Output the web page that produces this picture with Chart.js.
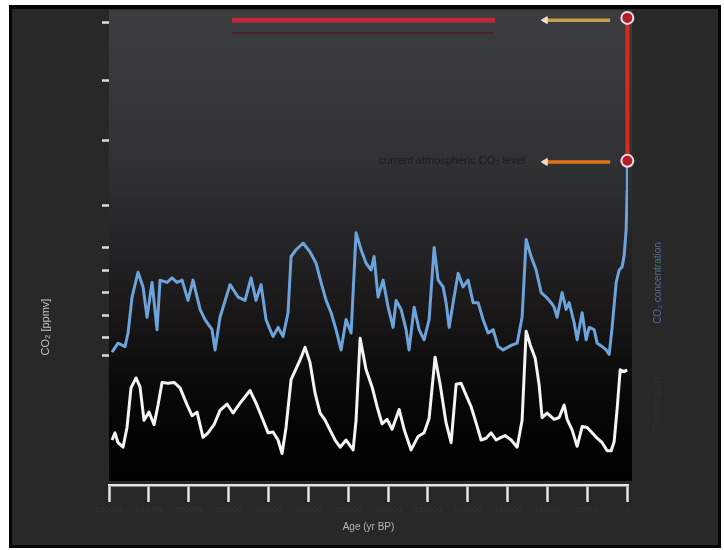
<!DOCTYPE html>
<html>
<head>
<meta charset="utf-8">
<script src="https://cdn.jsdelivr.net/npm/chart.js@4/dist/chart.umd.min.js"></script>
<style>
  html, body { margin: 0; padding: 0; background: #ffffff; }
  #wrap { width: 724px; height: 550px; }
</style>
</head>
<body>
<div id="wrap"><canvas id="c" width="724" height="550"></canvas></div>
<script>
// Ice-core record: atmospheric CO2 and temperature over the last 650,000 years

// CO2 (ppmv) by age (years before present)
const co2Age = [646200, 638700, 629900, 626100, 621100, 613600, 607300, 602300, 596000, 589800,
  586000, 577200, 571000, 564700, 558400, 550900, 544600, 535800, 529600, 520800,
  517000, 510800, 498200, 488200, 479400, 471900, 465600, 459300, 453100, 448000,
  444300, 438000, 431700, 425500, 421700, 415400, 406600, 397900, 390300, 384100,
  377800, 371500, 365300, 359000, 352700, 346400, 340200, 333900, 327600, 321400,
  317600, 312600, 306300, 300000, 293800, 290000, 283700, 277500, 273700, 267400,
  261100, 254900, 248600, 242300, 237300, 231000, 227300, 223500, 218500, 212200,
  206000, 199700, 193400, 187100, 180900, 174600, 168300, 162100, 155800, 145700,
  138200, 132000, 126900, 120700, 114400, 108100, 101800, 95600, 91800, 88100,
  81800, 76800, 73000, 66700, 63000, 56700, 51700, 47900, 41600, 37900,
  31600, 26600, 22800, 19100, 14000, 10300, 6500, 4000, 1500, 300, 0];
const co2Ppm = [183, 191, 188, 200, 232, 254, 241, 214, 245, 203,
  247, 245, 249, 245, 247, 229, 247, 221, 212, 203,
  185, 214, 243, 232, 229, 249, 229, 243, 212, 203,
  197, 205, 197, 218, 268, 274, 280, 272, 262, 245,
  229, 218, 203, 185, 212, 200, 289, 274, 262, 256,
  268, 232, 247, 223, 205, 229, 221, 203, 185, 223,
  203, 194, 212, 276, 247, 241, 227, 205, 227, 253,
  241, 247, 227, 227, 212, 200, 203, 188, 185, 189,
  191, 214, 283, 268, 256, 236, 232, 227, 223, 214,
  236, 221, 227, 209, 194, 218, 194, 205, 203, 191,
  188, 185, 181, 205, 245, 256, 259, 269, 292, 327, 353];

// Temperature anomaly (deg C) by age (years before present)
const tempAge = [646200, 642500, 638700, 632400, 627400, 622400, 616100, 611100, 606100, 599800,
  593500, 588500, 583500, 576000, 568400, 560900, 552100, 545900, 539600, 532100,
  525800, 518300, 510800, 502000, 494400, 485700, 473100, 465600, 456800, 450500,
  444300, 438000, 433000, 428000, 421700, 410400, 404100, 397900, 391600, 385300,
  379000, 372800, 366500, 360200, 352700, 343900, 340200, 335100, 327600, 320100,
  313800, 307600, 301300, 295000, 286200, 280000, 271200, 262400, 254900, 248600,
  241100, 234800, 227300, 221000, 214700, 208500, 202200, 195900, 189700, 183400,
  177100, 170800, 164600, 158300, 153300, 145700, 138200, 132000, 126900, 121900,
  115600, 110600, 106900, 100600, 91800, 85500, 79300, 75500, 69200, 63000,
  56700, 50400, 44200, 37900, 31600, 25300, 20300, 16600, 12800, 9000, 4000, 300];
const tempAnomaly = [-7.7, -6.9, -8.0, -8.5, -6.3, -1.9, -0.8, -1.8, -5.5, -4.6,
  -6.0, -3.8, -1.3, -1.4, -1.3, -1.9, -3.8, -5.0, -4.6, -7.4,
  -6.9, -6.0, -4.4, -3.7, -4.7, -3.6, -2.2, -3.6, -5.5, -6.9,
  -6.8, -7.7, -9.2, -6.3, -1.0, 1.2, 2.6, 0.9, -2.5, -4.7,
  -5.5, -6.6, -7.7, -8.5, -7.7, -8.8, -5.5, 3.6, 0.1, -1.8,
  -4.0, -5.9, -5.4, -6.5, -4.3, -6.5, -8.8, -7.3, -6.9, -5.3,
  1.5, -1.5, -5.8, -8.0, -1.5, -1.4, -2.7, -4.0, -5.8, -7.7,
  -7.5, -6.9, -7.7, -7.4, -7.2, -7.7, -8.5, -5.5, 4.4, 2.9,
  1.4, -1.6, -5.2, -4.7, -5.4, -5.2, -3.8, -5.4, -6.6, -8.4,
  -6.2, -6.3, -6.9, -7.5, -8.0, -8.9, -8.9, -7.9, -4.2, 0.1, -0.1, 0.1];

// Today's level and the projected level (ppmv)
const presentCo2 = 353;
const projectedCo2 = 480;
// Span of the level markers (ages) and the upper band
const arrowAges = [103000, 21600];
const bandAges = [495700, 165800];
const bandLevels = [478, 466.5];

// Axis ticks
const xTickValues = [650000, 600000, 550000, 500000, 450000, 400000, 350000,
  300000, 250000, 200000, 150000, 100000, 50000, 0];
const co2TickValues = [180, 196, 216, 236, 256, 276, 313, 371, 424, 476];

const pairs = (xs, ys) => xs.map((x, i) => ({ x: x, y: ys[i] }));

Chart.defaults.font.family = "'Liberation Sans', Arial, sans-serif";

const backdrop = {
  id: 'backdrop',
  beforeDraw(chart) {
    const { ctx, chartArea: a, width, height } = chart;
    ctx.save();
    ctx.fillStyle = '#ffffff';
    ctx.fillRect(0, 0, width, height);
    ctx.fillStyle = '#050505';
    ctx.fillRect(9, 5, 712, 543);
    ctx.fillStyle = '#282828';
    ctx.fillRect(12, 9, 706, 536);
    const g = ctx.createLinearGradient(0, a.top, 0, a.bottom - 4);
    g.addColorStop(0.00, '#3b3d40');
    g.addColorStop(0.30, '#313335');
    g.addColorStop(0.46, '#27272a');
    g.addColorStop(0.61, '#1c1a1b');
    g.addColorStop(0.78, '#0c0b0b');
    g.addColorStop(0.90, '#030303');
    g.addColorStop(1.00, '#000000');
    ctx.fillStyle = g;
    ctx.fillRect(a.left, a.top, a.right + 4 - a.left, a.bottom - 4 - a.top);
    ctx.restore();
  }
};

const labels = {
  id: 'labels',
  afterDraw(chart) {
    const { ctx } = chart;
    const y = chart.scales.y;
    const x = chart.scales.x;
    ctx.save();
    ctx.textAlign = 'center';
    ctx.textBaseline = 'middle';
    // left axis title
    ctx.save();
    ctx.translate(46, 327);
    ctx.rotate(-Math.PI / 2);
    ctx.fillStyle = '#c4c4c4';
    ctx.font = "11px 'Liberation Sans', Arial, sans-serif";
    ctx.fillText('CO\u2082 [ppmv]', 0, 0);
    ctx.restore();
    // right-hand series labels
    ctx.save();
    ctx.translate(658, 283);
    ctx.rotate(-Math.PI / 2);
    ctx.fillStyle = '#4f6c96';
    ctx.font = "10px 'Liberation Sans', Arial, sans-serif";
    ctx.fillText('CO\u2082 concentration', 0, 0);
    ctx.restore();
    ctx.save();
    ctx.translate(658, 402);
    ctx.rotate(-Math.PI / 2);
    ctx.fillStyle = '#2f2f2f';
    ctx.font = "10px 'Liberation Sans', Arial, sans-serif";
    ctx.fillText('Temperature', 0, 0);
    ctx.restore();
    // note beside today's level
    ctx.textAlign = 'right';
    ctx.fillStyle = '#1d1d1d';
    ctx.font = "11px 'Liberation Sans', Arial, sans-serif";
    ctx.fillText('current atmospheric CO\u2082 level', x.getPixelForValue(arrowAges[0]) - 20, y.getPixelForValue(presentCo2));
    ctx.restore();
  }
};

new Chart(document.getElementById('c'), {
  type: 'line',
  data: {
    datasets: [
      {
        label: 'present to projected',
        data: [{ x: 0, y: presentCo2 }, { x: 0, y: projectedCo2 }],
        yAxisID: 'y',
        borderColor: '#d42c1c',
        borderWidth: 4,
        pointRadius: 6,
        pointBorderWidth: 2,
        pointBackgroundColor: '#b41e2a',
        pointBorderColor: '#f0dcdc',
        clip: false,
        order: 0
      },
      {
        label: 'projected marker',
        data: [{ x: arrowAges[0], y: projectedCo2 - 2 }, { x: arrowAges[1], y: projectedCo2 - 2 }],
        yAxisID: 'y',
        borderColor: '#c4a24c',
        borderWidth: 3.5,
        pointStyle: 'triangle',
        pointRotation: -90,
        pointRadius: [4, 0],
        pointBackgroundColor: '#efe4c8',
        pointBorderColor: '#efe4c8',
        pointBorderWidth: 1,
        order: 1
      },
      {
        label: 'present marker',
        data: [{ x: arrowAges[0], y: presentCo2 - 1 }, { x: arrowAges[1], y: presentCo2 - 1 }],
        yAxisID: 'y',
        borderColor: '#e07418',
        borderWidth: 3.5,
        pointStyle: 'triangle',
        pointRotation: -90,
        pointRadius: [4, 0],
        pointBackgroundColor: '#f2dcc4',
        pointBorderColor: '#f2dcc4',
        pointBorderWidth: 1,
        order: 1
      },
      {
        label: 'band',
        data: [{ x: bandAges[0], y: bandLevels[0] }, { x: bandAges[1], y: bandLevels[0] }],
        yAxisID: 'y',
        borderColor: '#bc2a3c',
        borderWidth: 5,
        pointRadius: 0,
        order: 2
      },
      {
        label: 'band edge',
        data: [{ x: bandAges[0], y: bandLevels[1] }, { x: bandAges[1] + 2500, y: bandLevels[1] }],
        yAxisID: 'y',
        borderColor: '#4a2228',
        borderWidth: 2,
        pointRadius: 0,
        order: 2
      },
      {
        label: 'CO2',
        data: pairs(co2Age, co2Ppm),
        yAxisID: 'y',
        borderColor: '#6ca3da',
        borderWidth: 3,
        borderJoinStyle: 'round',
        pointRadius: 0,
        tension: 0,
        order: 3
      },
      {
        label: 'Temperature',
        data: pairs(tempAge, tempAnomaly),
        yAxisID: 't',
        borderColor: '#f4f4f4',
        borderWidth: 3,
        borderJoinStyle: 'round',
        pointRadius: 0,
        tension: 0,
        order: 3
      }
    ]
  },
  options: {
    responsive: false,
    animation: false,
    devicePixelRatio: 1,
    layout: { padding: { top: 10, right: 96, bottom: 0, left: 0 } },
    plugins: { legend: { display: false }, tooltip: { enabled: false } },
    scales: {
      x: {
        type: 'linear',
        reverse: true,
        min: -800,
        max: 650000,
        afterBuildTicks: (s) => { s.ticks = xTickValues.map((v) => ({ value: v })); },
        afterFit: (s) => { s.height = 65; },
        grid: {
          drawOnChartArea: false,
          drawTicks: true,
          tickLength: 17,
          tickColor: '#e6e6e6',
          tickWidth: 2.5
        },
        border: { display: true, color: '#e6e6e6', width: 2.5 },
        ticks: {
          color: '#343434',
          font: { size: 8 },
          maxRotation: 0,
          autoSkip: false,
          padding: 3,
          callback: (v) => String(v)
        },
        title: {
          display: true,
          text: 'Age (yr BP)',
          color: '#b4b4b4',
          font: { size: 10 },
          padding: { top: 0, bottom: 17 }
        }
      },
      y: {
        position: 'left',
        min: 65,
        max: 487,
        afterBuildTicks: (s) => { s.ticks = co2TickValues.map((v) => ({ value: v })); },
        afterFit: (s) => { s.width = 109; },
        grid: {
          drawOnChartArea: false,
          drawTicks: true,
          tickLength: 7,
          tickColor: '#dcdcdc',
          tickWidth: 2.5
        },
        border: { display: false },
        ticks: { display: false }
      },
      t: {
        position: 'right',
        display: false,
        min: -12.7,
        max: 40.1
      }
    }
  },
  plugins: [backdrop, labels]
});
</script>
</body>
</html>
